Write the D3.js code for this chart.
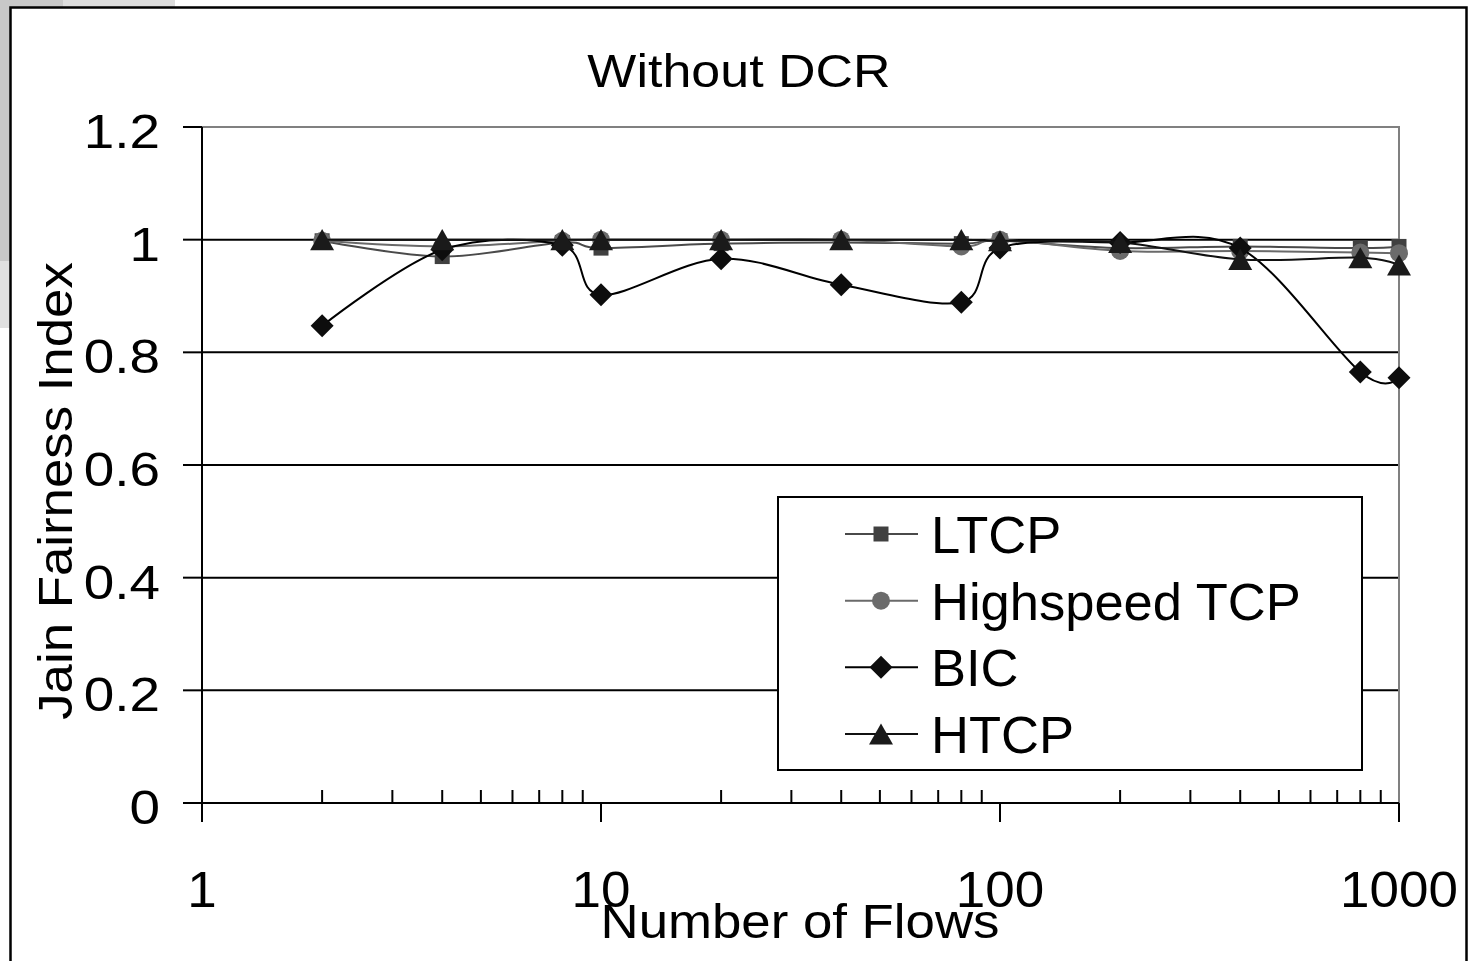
<!DOCTYPE html>
<html>
<head>
<meta charset="utf-8">
<script src="https://cdn.jsdelivr.net/npm/d3@7"></script>
<style>
  html, body { margin: 0; padding: 0; background: #fff; }
  svg { display: block; }
  text { font-family: Arial, "Liberation Sans", sans-serif; fill: #000; }
</style>
</head>
<body>
<svg id="chart" width="1468" height="961"></svg>
<script>
// Number of flows (x, log scale)
const flows = [2, 4, 8, 10, 20, 40, 80, 100, 200, 400, 800, 1000];

// Jain fairness index per protocol
const ltcp      = [0.998, 0.970, 0.995, 0.985, 0.993, 0.995, 0.993, 0.998, 0.985, 0.988, 0.985, 0.988];
const highspeed = [0.998, 0.988, 0.998, 1.000, 1.000, 1.000, 0.988, 1.000, 0.980, 0.980, 0.977, 0.976];
const bic       = [0.847, 0.982, 0.990, 0.902, 0.966, 0.920, 0.889, 0.985, 0.995, 0.985, 0.765, 0.755];
const htcp      = [1.000, 1.000, 1.000, 1.000, 1.000, 1.000, 1.000, 0.998, 0.995, 0.965, 0.968, 0.955];

const seriesNames = ["LTCP", "Highspeed TCP", "BIC", "HTCP"];
const yTicks = [0, 0.2, 0.4, 0.6, 0.8, 1, 1.2];
const yTickLabels = ["0", "0.2", "0.4", "0.6", "0.8", "1", "1.2"];
const xTicks = [1, 10, 100, 1000];
const xTickLabels = ["1", "10", "100", "1000"];

const titleText = "Without DCR";
const xTitle = "Number of Flows";
const yTitle = "Jain Fairness Index";

const svg = d3.select("#chart");

// plot region
const P = { left: 202, right: 1399, top: 127, bottom: 803 };
const x = d3.scaleLog().domain([1, 1000]).range([P.left, P.right]);
const y = d3.scaleLinear().domain([0, 1.2]).range([P.bottom, P.top]);

// window-frame shading at the upper left
svg.append("rect").attr("x", 0).attr("y", 0).attr("width", 175).attr("height", 7).attr("fill", "#dcdcdc");
svg.append("rect").attr("x", 0).attr("y", 0).attr("width", 63).attr("height", 7).attr("fill", "#c8c8c8");
svg.append("rect").attr("x", 0).attr("y", 0).attr("width", 10).attr("height", 328).attr("fill", "#e0e0e0");
svg.append("rect").attr("x", 0).attr("y", 0).attr("width", 10).attr("height", 261).attr("fill", "#c8c8c8");

// chart frame
svg.append("rect")
  .attr("x", 10.5).attr("y", 7.5).attr("width", 1456).attr("height", 1000)
  .attr("fill", "#fff").attr("stroke", "#000").attr("stroke-width", 2.5);

// text helper with horizontal stretch
function stretchedText(g, str, tx, ty, size, sx, anchor, rotate) {
  const t = g.append("text")
    .attr("transform", `translate(${tx},${ty})${rotate ? ` rotate(${rotate})` : ""} scale(${sx},1)`)
    .attr("font-size", size)
    .attr("text-anchor", anchor)
    .text(str);
  return t;
}

// title
stretchedText(svg, titleText, 739, 87, 46, 1.13, "middle");

// horizontal gridlines
svg.append("g").selectAll("line")
  .data(yTicks.filter(v => v > 0 && v < 1.2))
  .join("line")
  .attr("x1", P.left).attr("x2", P.right)
  .attr("y1", d => y(d)).attr("y2", d => y(d))
  .attr("stroke", "#000").attr("stroke-width", 2);

// plot top and right border (gray)
svg.append("path")
  .attr("d", `M${P.left},${y(1.2)}H${x(1000)}V${P.bottom}`)
  .attr("fill", "none").attr("stroke", "#808080").attr("stroke-width", 2);

// y axis
const yAxis = svg.append("g");
yAxis.append("line").attr("x1", P.left).attr("x2", P.left)
  .attr("y1", y(1.2)).attr("y2", P.bottom + 19)
  .attr("stroke", "#000").attr("stroke-width", 2);
yAxis.selectAll("line.tick").data(yTicks).join("line").attr("class", "tick")
  .attr("x1", P.left - 19).attr("x2", P.left)
  .attr("y1", d => y(d)).attr("y2", d => y(d))
  .attr("stroke", "#000").attr("stroke-width", 2);
yTicks.forEach((v, i) => stretchedText(yAxis, yTickLabels[i], 160, y(v) + 21, 49, 1.12, "end"));

// x axis
const xAxis = svg.append("g");
xAxis.append("line").attr("x1", P.left - 19).attr("x2", P.right)
  .attr("y1", P.bottom).attr("y2", P.bottom)
  .attr("stroke", "#000").attr("stroke-width", 2);
const minorTicks = [];
for (let d = 1; d < 1000; d *= 10) for (let k = 2; k <= 9; k++) minorTicks.push(d * k);
xAxis.selectAll("line.minor").data(minorTicks).join("line").attr("class", "minor")
  .attr("x1", d => x(d)).attr("x2", d => x(d))
  .attr("y1", P.bottom - 13).attr("y2", P.bottom)
  .attr("stroke", "#000").attr("stroke-width", 2);
xAxis.selectAll("line.major").data(xTicks).join("line").attr("class", "major")
  .attr("x1", d => x(d)).attr("x2", d => x(d))
  .attr("y1", P.bottom).attr("y2", P.bottom + 19)
  .attr("stroke", "#000").attr("stroke-width", 2);
xTicks.forEach((v, i) => stretchedText(xAxis, xTickLabels[i], x(v), 907, 50, 1.06, "middle"));

// axis titles
stretchedText(svg, xTitle, 800, 938, 48, 1.1, "middle");
stretchedText(svg, yTitle, 72, 491, 48, 1.1, "middle", -90);

// marker shapes
const symSquare = { draw(c, s) { const h = s / 2; c.rect(-h, -h, s, s); } };
const symCircle = { draw(c, s) { const r = s / 2; c.moveTo(r, 0); c.arc(0, 0, r, 0, 2 * Math.PI); } };
const symDiamond = { draw(c, s) { const r = s / 2; c.moveTo(0, -r); c.lineTo(r, 0); c.lineTo(0, r); c.lineTo(-r, 0); c.closePath(); } };
const symTriangle = { draw(c, s) { const w = s / 2, h = s * 0.44; c.moveTo(0, -h); c.lineTo(w, h); c.lineTo(-w, h); c.closePath(); } };

const series = [
  { name: seriesNames[0], values: ltcp,      line: "#4a4a4a", fill: "#404040", sym: symSquare,   size: 15 },
  { name: seriesNames[1], values: highspeed, line: "#6a6a6a", fill: "#6b6b6b", sym: symCircle,   size: 18 },
  { name: seriesNames[2], values: bic,       line: "#000000", fill: "#0d0d0d", sym: symDiamond,  size: 23 },
  { name: seriesNames[3], values: htcp,      line: "#111111", fill: "#1a1a1a", sym: symTriangle, size: 24 }
];

const line = d3.line()
  .x(d => x(d[0])).y(d => y(d[1]))
  .curve(d3.curveCatmullRom.alpha(0));

const plot = svg.append("g");
series.forEach(s => {
  const pts = flows.map((f, i) => [f, s.values[i]]);
  plot.append("path").datum(pts)
    .attr("d", line)
    .attr("fill", "none").attr("stroke", s.line).attr("stroke-width", 2);
  plot.selectAll(null).data(pts).join("path")
    .attr("transform", d => `translate(${x(d[0])},${y(d[1])})`)
    .attr("d", d3.symbol().type(s.sym).size(s.size))
    .attr("fill", s.fill);
});

// legend
const L = { x: 778, y: 497, w: 584, h: 273 };
const legend = svg.append("g");
legend.append("rect").attr("x", L.x).attr("y", L.y).attr("width", L.w).attr("height", L.h)
  .attr("fill", "#fff").attr("stroke", "#000").attr("stroke-width", 2);
const rowY = d3.scaleLinear().domain([0, 3]).range([534, 734]);
series.forEach((s, i) => {
  const cy = rowY(i);
  legend.append("line").attr("x1", 845).attr("x2", 918).attr("y1", cy).attr("y2", cy)
    .attr("stroke", s.line).attr("stroke-width", 2);
  legend.append("path").attr("transform", `translate(881,${cy})`)
    .attr("d", d3.symbol().type(s.sym).size(s.size)).attr("fill", s.fill);
  legend.append("text").attr("x", 931).attr("y", cy + 19)
    .attr("font-size", 52.5).text(s.name);
});
</script>
</body>
</html>
